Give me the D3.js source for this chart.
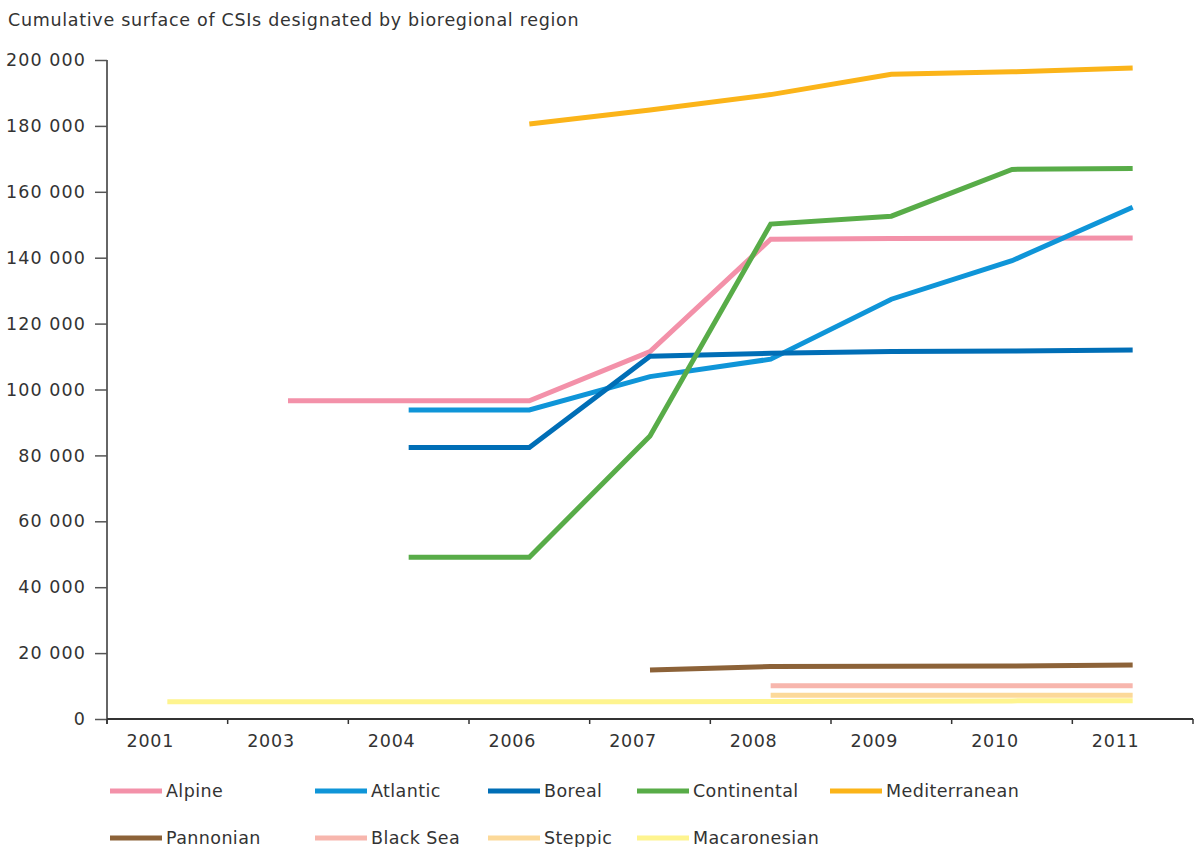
<!DOCTYPE html>
<html>
<head>
<meta charset="utf-8">
<script src="https://cdn.jsdelivr.net/npm/d3@7"></script>
<style>
  html, body { margin: 0; padding: 0; background: #fff; }
  svg { display: block; font-family: "DejaVu Sans", Verdana, sans-serif; }
</style>
</head>
<body>
<svg id="chart" width="1195" height="847"></svg>
<script>
const title = "Cumulative surface of CSIs designated by bioregional region";
const years = ["2001", "2003", "2004", "2006", "2007", "2008", "2009", "2010", "2011"];
const yTicks = [0, 20000, 40000, 60000, 80000, 100000, 120000, 140000, 160000, 180000, 200000];

const seriesNames = ["Alpine", "Atlantic", "Boreal", "Continental", "Mediterranean",
                     "Pannonian", "Black Sea", "Steppic", "Macaronesian"];
const seriesColors = ["#F391A9", "#0F95D8", "#006EB6", "#58AC48", "#FBB419",
                      "#8C6238", "#F7B6AD", "#FCD999", "#FEF48F"];

// null = no value for that year
const alpine        = [null, 96600, 96600, 96600, 111500, 145600, 145800, 145900, 146000];
const atlantic      = [null, null, 93800, 93800, 103900, 109200, 127400, 139100, 155300];
const boreal        = [null, null, 82400, 82400, 110100, 111000, 111500, 111700, 112000];
const continental   = [null, null, 49100, 49100, 85900, 150200, 152600, 166800, 167100];
const mediterranean = [null, null, null, 180600, 184800, 189500, 195700, 196400, 197600];
const pannonian     = [null, null, null, null, 14900, 15900, 16000, 16100, 16400];
const blackSea      = [null, null, null, null, null, 10100, 10100, 10100, 10100];
const steppic       = [null, null, null, null, null, 7200, 7200, 7200, 7200];
const macaronesian  = [5250, 5250, 5250, 5250, 5250, 5300, 5400, 5500, 5550];

const seriesValues = [alpine, atlantic, boreal, continental, mediterranean,
                      pannonian, blackSea, steppic, macaronesian];

const svg = d3.select("#chart");
const textColor = "#333";

const x = d3.scaleBand().domain(years).range([107, 1193]).paddingInner(0).paddingOuter(0);
const y = d3.scaleLinear().domain([0, 200000]).range([719, 60]);

const fmt = v => d3.format(",")(v).replace(/,/g, " ");

// title
svg.append("text")
  .attr("x", 8).attr("y", 26)
  .attr("font-size", 17.5).attr("letter-spacing", 0.7).attr("fill", textColor)
  .text(title);

// y axis
const yAxis = svg.append("g").attr("transform", "translate(107,0)")
  .call(d3.axisLeft(y).tickValues(yTicks).tickSize(12).tickPadding(9).tickFormat(fmt).tickSizeOuter(0));
yAxis.select(".domain").attr("stroke", "#666").attr("stroke-width", 2)
  .attr("d", `M0,${y(200000)}V${y(0) + 5}`);
yAxis.selectAll(".tick line").attr("stroke", "#555").attr("stroke-width", 1.5);
yAxis.selectAll(".tick text").attr("font-size", 17.5).attr("letter-spacing", 1.1)
  .attr("fill", textColor)
  .attr("font-family", "DejaVu Sans, Verdana, sans-serif");

// x axis
const tickPositions = years.map(d => x(d)).concat([x.range()[1]]);
const xg = svg.append("g");
xg.append("line")
  .attr("x1", x.range()[0]).attr("x2", x.range()[1])
  .attr("y1", y(0)).attr("y2", y(0))
  .attr("stroke", "#333").attr("stroke-width", 2);
xg.selectAll("line.xt").data(tickPositions).join("line").attr("class", "xt")
  .attr("x1", d => d).attr("x2", d => d)
  .attr("y1", y(0)).attr("y2", y(0) + 5)
  .attr("stroke", "#333").attr("stroke-width", 1.5);
xg.selectAll("text").data(years).join("text")
  .attr("x", d => x(d) + x.bandwidth() / 2 - 17)
  .attr("y", 747)
  .attr("text-anchor", "middle")
  .attr("font-size", 17.5).attr("letter-spacing", 0.8).attr("fill", textColor)
  .text(d => d);

// lines
const line = d3.line()
  .defined(d => d.v !== null)
  .x(d => x(d.year) + x.bandwidth() / 2)
  .y(d => y(d.v));

seriesNames.forEach((name, i) => {
  const pts = years.map((yr, j) => ({ year: yr, v: seriesValues[i][j] }));
  svg.append("path")
    .datum(pts)
    .attr("fill", "none")
    .attr("stroke", seriesColors[i])
    .attr("stroke-width", 5)
    .attr("stroke-linejoin", "miter")
    .attr("stroke-linecap", "butt")
    .attr("d", line);
});

// legend
const legendCols = [110, 315, 488, 637, 830];
const legendRows = [791, 838];
const leg = svg.append("g");
seriesNames.forEach((name, i) => {
  const cx = legendCols[i % 5];
  const cy = legendRows[Math.floor(i / 5)];
  leg.append("line")
    .attr("x1", cx).attr("x2", cx + 52)
    .attr("y1", cy).attr("y2", cy)
    .attr("stroke", seriesColors[i]).attr("stroke-width", 5);
  leg.append("text")
    .attr("x", cx + 56).attr("y", cy)
    .attr("dy", "0.35em")
    .attr("font-size", 17.5).attr("letter-spacing", 0.4).attr("fill", textColor)
    .text(name);
});
</script>
</body>
</html>
